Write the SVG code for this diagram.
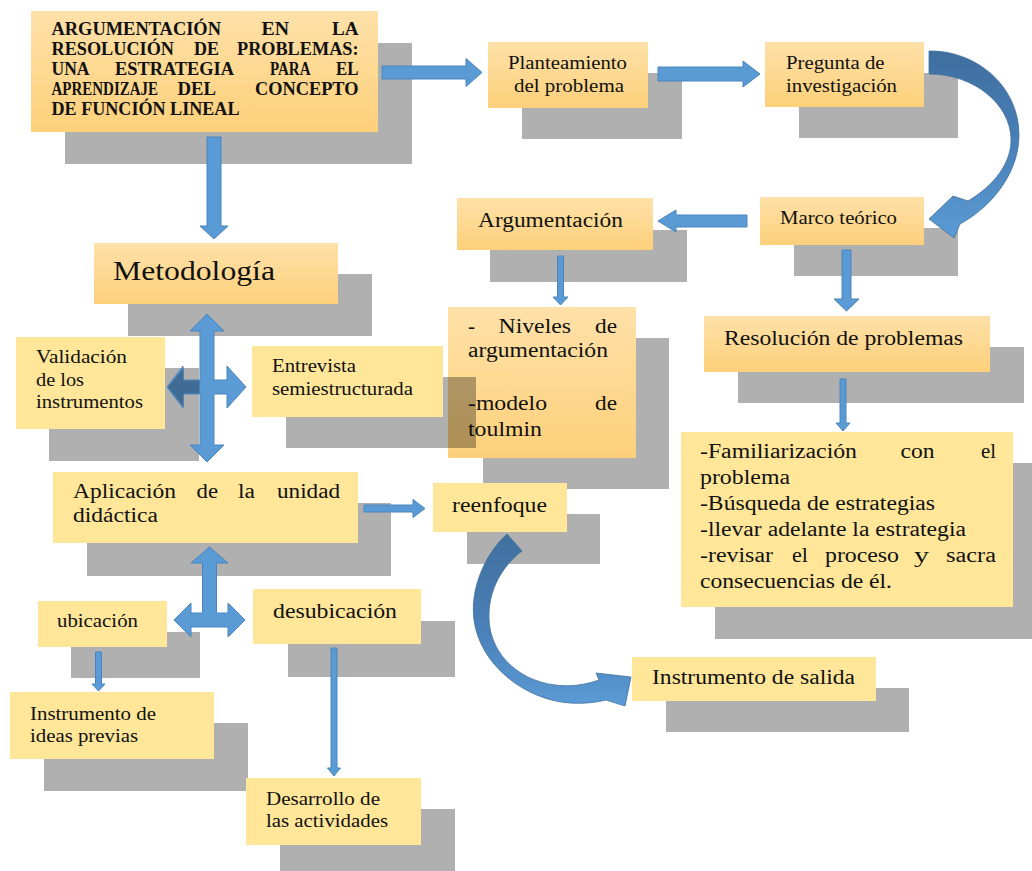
<svg xmlns="http://www.w3.org/2000/svg" width="1032" height="871" viewBox="0 0 1032 871">
  <defs>
    <linearGradient id="og" x1="0" y1="0" x2="0" y2="1">
      <stop offset="0" stop-color="#fee1a9"/>
      <stop offset="1" stop-color="#fdd07a"/>
    </linearGradient>
    <linearGradient id="cg1" gradientUnits="userSpaceOnUse" x1="0" y1="51" x2="0" y2="238">
      <stop offset="0" stop-color="#3f6e9e"/>
      <stop offset="0.5" stop-color="#4a80b8"/>
      <stop offset="1" stop-color="#5b9bd5"/>
    </linearGradient>
    <linearGradient id="cg2" gradientUnits="userSpaceOnUse" x1="0" y1="534" x2="0" y2="706">
      <stop offset="0" stop-color="#41709f"/>
      <stop offset="0.55" stop-color="#4a80b8"/>
      <stop offset="1" stop-color="#5b9bd5"/>
    </linearGradient>
    <style>
      .sh { fill: #000; fill-opacity: 0.31; }
      .fo { fill: url(#og); }
      .fy { fill: #ffe699; }
      .ar { fill: #5b9bd5; stroke: #4a85bd; stroke-width: 1; }
      .dk { fill: #3f6b94; }
      text { fill: #111; font-family: "Liberation Serif", "Times New Roman", serif; }
      .tb { font-size: 18px; font-weight: bold; }
      .s { font-size: 18px; }
      .m { font-size: 20.5px; }
      .l { font-size: 26.5px; }
    </style>
  </defs>

  <!-- title -->
  <g id="n-titulo">
    <rect class="sh" x="65" y="43" width="347" height="121"/>
    <rect class="fo" x="31" y="11" width="347" height="121"/>
    <text class="tb" x="51.5" y="35" textLength="169.5" lengthAdjust="spacingAndGlyphs">ARGUMENTACIÓN</text>
    <text class="tb" x="261.5" y="35" textLength="27.5" lengthAdjust="spacingAndGlyphs">EN</text>
    <text class="tb" x="332" y="35" textLength="26.5" lengthAdjust="spacingAndGlyphs">LA</text>
    <text class="tb" x="51.5" y="54.5" textLength="122.5" lengthAdjust="spacingAndGlyphs">RESOLUCIÓN</text>
    <text class="tb" x="194" y="54.5" textLength="25" lengthAdjust="spacingAndGlyphs">DE</text>
    <text class="tb" x="237" y="54.5" textLength="121.5" lengthAdjust="spacingAndGlyphs">PROBLEMAS:</text>
    <text class="tb" x="51.5" y="75" textLength="38" lengthAdjust="spacingAndGlyphs">UNA</text>
    <text class="tb" x="115" y="75" textLength="119" lengthAdjust="spacingAndGlyphs">ESTRATEGIA</text>
    <text class="tb" x="270" y="75" textLength="40.5" lengthAdjust="spacingAndGlyphs">PARA</text>
    <text class="tb" x="336" y="75" textLength="22.5" lengthAdjust="spacingAndGlyphs">EL</text>
    <text class="tb" x="51.5" y="95" textLength="106.5" lengthAdjust="spacingAndGlyphs">APRENDIZAJE</text>
    <text class="tb" x="177.5" y="95" textLength="38.5" lengthAdjust="spacingAndGlyphs">DEL</text>
    <text class="tb" x="255" y="95" textLength="103.5" lengthAdjust="spacingAndGlyphs">CONCEPTO</text>
    <text class="tb" x="51.5" y="115" textLength="188" lengthAdjust="spacingAndGlyphs">DE FUNCIÓN LINEAL</text>
  </g>

  <g id="n-planteamiento">
    <rect class="sh" x="522" y="73" width="160" height="66"/>
    <rect class="fo" x="488" y="42" width="160" height="66"/>
    <text class="s" x="508" y="69" textLength="119" lengthAdjust="spacingAndGlyphs">Planteamiento</text>
    <text class="s" x="514" y="92" textLength="110" lengthAdjust="spacingAndGlyphs">del problema</text>
  </g>

  <g id="n-pregunta">
    <rect class="sh" x="799" y="73" width="159" height="65"/>
    <rect class="fo" x="765" y="42" width="159" height="65"/>
    <text class="s" x="786" y="69" textLength="98.5" lengthAdjust="spacingAndGlyphs">Pregunta de</text>
    <text class="s" x="786" y="92" textLength="111" lengthAdjust="spacingAndGlyphs">investigación</text>
  </g>

  <g id="n-marco">
    <rect class="sh" x="794" y="228" width="164" height="48"/>
    <rect class="fo" x="760" y="197" width="164" height="48"/>
    <text class="s" x="780" y="224" textLength="117" lengthAdjust="spacingAndGlyphs">Marco teórico</text>
  </g>

  <g id="n-argumentacion">
    <rect class="sh" x="490" y="230" width="197" height="52"/>
    <rect class="fo" x="457" y="198" width="196" height="52"/>
    <text class="m" x="478" y="227" textLength="145" lengthAdjust="spacingAndGlyphs">Argumentación</text>
  </g>

  <g id="n-niveles">
    <rect class="sh" x="483" y="338" width="186" height="151"/>
    <rect class="fo" x="448" y="307" width="188" height="151"/>
    <text class="m" x="468" y="333" textLength="7" lengthAdjust="spacingAndGlyphs">-</text>
    <text class="m" x="498.5" y="333" textLength="72.5" lengthAdjust="spacingAndGlyphs">Niveles</text>
    <text class="m" x="595" y="333" textLength="22" lengthAdjust="spacingAndGlyphs">de</text>
    <text class="m" x="468" y="357" textLength="140" lengthAdjust="spacingAndGlyphs">argumentación</text>
    <text class="m" x="468" y="410" textLength="79" lengthAdjust="spacingAndGlyphs">-modelo</text>
    <text class="m" x="595" y="410" textLength="22" lengthAdjust="spacingAndGlyphs">de</text>
    <text class="m" x="468" y="436" textLength="74" lengthAdjust="spacingAndGlyphs">toulmin</text>
  </g>

  <g id="n-resolucion">
    <rect class="sh" x="738" y="347" width="286" height="56"/>
    <rect class="fo" x="704" y="316" width="286" height="56"/>
    <text class="m" x="724" y="345" textLength="239" lengthAdjust="spacingAndGlyphs">Resolución de problemas</text>
  </g>

  <g id="n-fases">
    <rect class="sh" x="715" y="463" width="332" height="176"/>
    <rect class="fy" x="681" y="432" width="332" height="175"/>
    <text class="m" x="700" y="458" textLength="157" lengthAdjust="spacingAndGlyphs">-Familiarización</text>
    <text class="m" x="900.5" y="458" textLength="34" lengthAdjust="spacingAndGlyphs">con</text>
    <text class="m" x="981" y="458" textLength="15" lengthAdjust="spacingAndGlyphs">el</text>
    <text class="m" x="700" y="483.5" textLength="90" lengthAdjust="spacingAndGlyphs">problema</text>
    <text class="m" x="700" y="509.5" textLength="235" lengthAdjust="spacingAndGlyphs">-Búsqueda de estrategias</text>
    <text class="m" x="700" y="536" textLength="266" lengthAdjust="spacingAndGlyphs">-llevar adelante la estrategia</text>
    <text class="m" x="700" y="562" textLength="73" lengthAdjust="spacingAndGlyphs">-revisar</text>
    <text class="m" x="792" y="562" textLength="16" lengthAdjust="spacingAndGlyphs">el</text>
    <text class="m" x="825" y="562" textLength="74" lengthAdjust="spacingAndGlyphs">proceso</text>
    <text class="m" x="914" y="562" textLength="15" lengthAdjust="spacingAndGlyphs">y</text>
    <text class="m" x="946" y="562" textLength="50" lengthAdjust="spacingAndGlyphs">sacra</text>
    <text class="m" x="700" y="588" textLength="192" lengthAdjust="spacingAndGlyphs">consecuencias de él.</text>
  </g>

  <g id="n-metodologia">
    <rect class="sh" x="128" y="274" width="244" height="62"/>
    <rect class="fo" x="94" y="243" width="244" height="61"/>
    <text class="l" x="113" y="280" textLength="162" lengthAdjust="spacingAndGlyphs">Metodología</text>
  </g>

  <g id="n-validacion">
    <rect class="sh" x="49" y="368" width="150" height="93"/>
    <rect class="fy" x="16" y="337" width="149" height="92"/>
    <text class="s" x="36" y="363" textLength="91" lengthAdjust="spacingAndGlyphs">Validación</text>
    <text class="s" x="36" y="386" textLength="48" lengthAdjust="spacingAndGlyphs">de los</text>
    <text class="s" x="36" y="408" textLength="107" lengthAdjust="spacingAndGlyphs">instrumentos</text>
  </g>

  <g id="n-entrevista">
    <rect class="sh" x="286" y="377" width="190" height="71"/>
    <rect class="fy" x="252" y="346" width="191" height="71"/>
    <text class="s" x="272" y="372" textLength="84" lengthAdjust="spacingAndGlyphs">Entrevista</text>
    <text class="s" x="272" y="395" textLength="141" lengthAdjust="spacingAndGlyphs">semiestructurada</text>
  </g>

  <g id="n-aplicacion">
    <rect class="sh" x="87" y="503" width="304" height="73"/>
    <rect class="fy" x="53" y="472" width="305" height="71"/>
    <text class="m" x="73" y="498" textLength="103" lengthAdjust="spacingAndGlyphs">Aplicación</text>
    <text class="m" x="196.5" y="498" textLength="21.5" lengthAdjust="spacingAndGlyphs">de</text>
    <text class="m" x="238" y="498" textLength="17" lengthAdjust="spacingAndGlyphs">la</text>
    <text class="m" x="277" y="498" textLength="63" lengthAdjust="spacingAndGlyphs">unidad</text>
    <text class="m" x="73" y="522" textLength="85" lengthAdjust="spacingAndGlyphs">didáctica</text>
  </g>

  <g id="n-reenfoque">
    <rect class="sh" x="467" y="514" width="133" height="50"/>
    <rect class="fy" x="433" y="483" width="134" height="49"/>
    <text class="m" x="452" y="512" textLength="95" lengthAdjust="spacingAndGlyphs">reenfoque</text>
  </g>

  <g id="n-ubicacion">
    <rect class="sh" x="71" y="632" width="129" height="46"/>
    <rect class="fy" x="38" y="601" width="129" height="46"/>
    <text class="s" x="57" y="627" textLength="81" lengthAdjust="spacingAndGlyphs">ubicación</text>
  </g>

  <g id="n-desubicacion">
    <rect class="sh" x="288" y="621" width="167" height="56"/>
    <rect class="fy" x="253" y="589" width="168" height="55"/>
    <text class="m" x="273" y="618" textLength="124" lengthAdjust="spacingAndGlyphs">desubicación</text>
  </g>

  <g id="n-ideas">
    <rect class="sh" x="44" y="723" width="204" height="68"/>
    <rect class="fy" x="10" y="692" width="204" height="67"/>
    <text class="s" x="30" y="720" textLength="126" lengthAdjust="spacingAndGlyphs">Instrumento de</text>
    <text class="s" x="30" y="742" textLength="108" lengthAdjust="spacingAndGlyphs">ideas previas</text>
  </g>

  <g id="n-desarrollo">
    <rect class="sh" x="280" y="809" width="175" height="67"/>
    <rect class="fy" x="246" y="778" width="175" height="67"/>
    <text class="s" x="266" y="805" textLength="114" lengthAdjust="spacingAndGlyphs">Desarrollo de</text>
    <text class="s" x="266" y="827" textLength="122" lengthAdjust="spacingAndGlyphs">las actividades</text>
  </g>

  <g id="n-salida">
    <rect class="sh" x="666" y="688" width="243" height="44"/>
    <rect class="fy" x="632" y="657" width="244" height="44"/>
    <text class="m" x="652" y="684" textLength="203" lengthAdjust="spacingAndGlyphs">Instrumento de salida</text>
  </g>

  <!-- connectors -->
  <g id="connectors">
    <!-- title -> planteamiento -->
    <polygon class="ar" points="382,66 466,66 466,58.5 482,72.5 466,86.5 466,79 382,79"/>
    <!-- planteamiento -> pregunta -->
    <polygon class="ar" points="658,67 743,67 743,61 760,74 743,87 743,81 658,81"/>
    <!-- pregunta -> marco (curved) -->
    <path fill="url(#cg1)" stroke="#41719c" stroke-width="0.8" d="M929,51 C975,50 1019,85 1019,135 C1019,170 995,205 960,224 L954,238 L929,219 L953,196 L968,201 C995,185 1012,162 1011,138 C1010,105 975,74 929,74 Z"/>
    <!-- marco -> argumentacion -->
    <polygon class="ar" points="747,215 676,215 676,210 658,221 676,232 676,227 747,227"/>
    <!-- marco -> resolucion -->
    <polygon class="ar" points="842,250 851,250 851,299 859,299 846.5,311 834,299 842,299"/>
    <!-- argumentacion -> niveles -->
    <polygon class="ar" points="557.5,256 563.5,256 563.5,297 568,297 560.5,305 553,297 557.5,297"/>
    <!-- resolucion -> fases -->
    <polygon class="ar" points="840,379 846,379 846,423 850,423 843,431 836,423 840,423"/>
    <!-- title -> metodologia -->
    <polygon class="ar" points="207,137 221,137 221,226 228,226 214,239 200,226 207,226"/>
    <!-- metodologia: four-way -->
    <polygon class="ar" points="207,314 224,331 214,331 214,380 227,380 227,366 246,387 227,408 227,394 214,394 214,445 224,445 207,462 190,445 200,445 200,394 183,394 183,408 167,387 183,366 183,380 200,380 200,331 190,331"/>
    <polygon class="dk" points="199.5,380.5 183.5,380.5 183.5,368 167.8,387 183.5,407 183.5,393.5 199.5,393.5"/>
    <!-- aplicacion -> reenfoque -->
    <polygon class="ar" points="364,505 413,505 413,499.5 425,508.5 413,517.5 413,512 364,512"/>
    <!-- aplicacion: three-way -->
    <polygon class="ar" points="209.5,547 228,563 216.5,563 216.5,613 228,613 228,603 245,620 228,637 228,627 191,627 191,637 174,620 191,603 191,613 202.5,613 202.5,563 191,563"/>
    <!-- ubicacion -> ideas previas -->
    <polygon class="ar" points="95.5,652 101.5,652 101.5,684 105,684 98.5,691 92,684 95.5,684"/>
    <!-- desubicacion -> desarrollo -->
    <polygon class="ar" points="331,648 337,648 337,768 340.5,768 334,776 327.5,768 331,768"/>
    <!-- reenfoque -> salida (curved) -->
    <path fill="url(#cg2)" stroke="#41719c" stroke-width="0.8" d="M507,534 C484,555 470,590 474,620 C480,665 525,700 570,703 C585,704 598,702 606,700 L625,706 L631,677 L596,673 L599,680 C585,685 570,687 555,685 C515,680 488,650 489,615 C489,590 502,566 522,551 Z"/>
  </g>
</svg>
